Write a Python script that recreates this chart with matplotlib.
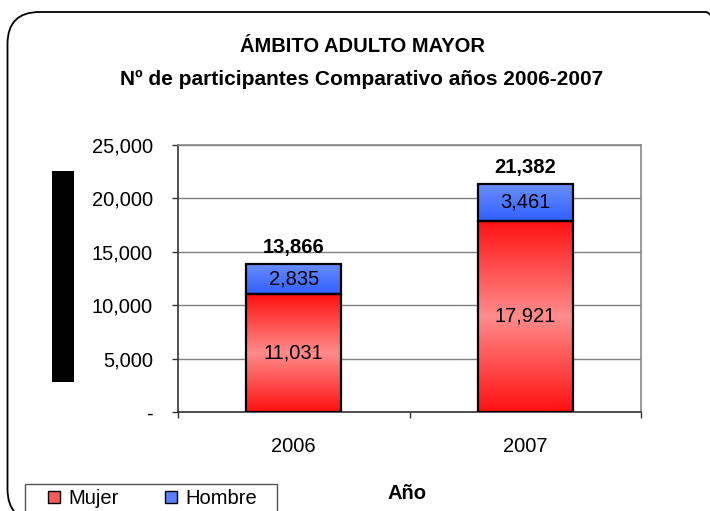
import numpy as np
import matplotlib
matplotlib.use("Agg")
import matplotlib.pyplot as plt
from matplotlib.patches import Patch, FancyBboxPatch, Rectangle
from matplotlib.ticker import FuncFormatter, FixedLocator
from matplotlib.colors import LinearSegmentedColormap

plt.rcParams['font.family'] = ['Liberation Sans', 'DejaVu Sans']

# ---- data ----
years = ["2006", "2007"]
mujer = [11031, 17921]
hombre = [2835, 3461]
totals = [13866, 21382]
series_names = ["Mujer", "Hombre"]
title_lines = ["ÁMBITO ADULTO MAYOR", "Nº de participantes Comparativo años 2006-2007"]
x_label = "Año"
y_ticks = [0, 5000, 10000, 15000, 20000, 25000]

W, H = 710, 511
fig = plt.figure(figsize=(W / 100, H / 100), dpi=100)

# outer rounded frame (in inches)
frame = FancyBboxPatch((0.075, -0.10), 7.30, 5.11 - 0.12 + 0.10,
                       boxstyle="round,pad=0,rounding_size=0.32",
                       transform=fig.dpi_scale_trans, fill=False,
                       edgecolor="black", linewidth=1.3)
fig.add_artist(frame)

ax = fig.add_axes([178 / W, 1 - 412 / H, 463 / W, 267 / H])

x = np.arange(len(years))
bw = 0.41
red_cmap = LinearSegmentedColormap.from_list("r", ["#ff1010", "#ff8c8c", "#ff1010"])
blue_cmap = LinearSegmentedColormap.from_list("b", ["#3060ff", "#6a8eff"])

b1 = ax.bar(x, mujer, width=bw, facecolor="none", edgecolor="black", linewidth=1.6, zorder=4)
b2 = ax.bar(x, hombre, bottom=mujer, width=bw, facecolor="none", edgecolor="black", linewidth=1.6, zorder=4)

grad = np.linspace(0, 1, 256).reshape(-1, 1)
for bars, cmap in ((b1, red_cmap), (b2, blue_cmap)):
    for p in bars:
        x0, y0 = p.get_x(), p.get_y()
        x1, y1 = x0 + p.get_width(), y0 + p.get_height()
        im = ax.imshow(grad, cmap=cmap, extent=(x0, x1, y1, y0), aspect="auto",
                       origin="upper", zorder=3, interpolation="bilinear")
        im.set_clip_path(p)

ax.set_xlim(-0.5, 1.5)
ax.set_ylim(0, 25000)

FS = 14.5
# labels
for i in range(len(years)):
    ax.text(x[i], mujer[i] / 2, f"{mujer[i]:,}", ha="center", va="center", fontsize=FS, zorder=5)
    ax.text(x[i], mujer[i] + hombre[i] / 2, f"{hombre[i]:,}", ha="center", va="center", fontsize=FS, zorder=5)
    ax.text(x[i], totals[i] + 650, f"{totals[i]:,}", ha="center", va="bottom", fontsize=FS,
            fontweight="bold", zorder=5)

# y axis
ax.yaxis.set_major_locator(FixedLocator(y_ticks))
ax.yaxis.set_major_formatter(FuncFormatter(lambda v, p: "-" if v == 0 else f"{v:,.0f}"))
ax.tick_params(axis="y", direction="out", length=4, width=1, pad=14, labelsize=FS, color="#333333")
ax.grid(axis="y", color="#808080", linewidth=1, zorder=1)
ax.set_axisbelow(True)

# x axis: boundary ticks + centered labels
ax.xaxis.set_major_locator(FixedLocator([-0.5, 0.5, 1.5]))
ax.xaxis.set_major_formatter(FuncFormatter(lambda v, p: ""))
ax.xaxis.set_minor_locator(FixedLocator(list(x)))
ax.set_xticklabels(years, minor=True)
ax.tick_params(axis="x", which="major", direction="out", length=4, width=1, color="#333333")
ax.tick_params(axis="x", which="minor", length=0, pad=18, labelsize=FS)

for s in ("left", "bottom"):
    ax.spines[s].set_color("#333333")
    ax.spines[s].set_linewidth(1.2)
for s in ("top", "right"):
    ax.spines[s].set_color("#888888")
    ax.spines[s].set_linewidth(1.2)

# titles
fig.text(362 / W, 1 - 46 / H, title_lines[0], ha="center", va="center", fontsize=14.5, fontweight="bold")
fig.text(362 / W, 1 - 79 / H, title_lines[1], ha="center", va="center", fontsize=15, fontweight="bold")
fig.text(407 / W, 1 - 493 / H, x_label, ha="center", va="center", fontsize=FS, fontweight="bold")

# redaction block (as in reference)
fig.add_artist(Rectangle((52 / W, 1 - 382 / H), 22 / W, 211 / H, transform=fig.transFigure,
                         facecolor="black", edgecolor="none"))

# legend frame (box runs off the bottom of the image)
fig.add_artist(Rectangle((25 / W, -0.05), 252 / W, 0.05 + 1 - 484 / H, transform=fig.transFigure,
                         fill=False, edgecolor="#555555", linewidth=1.0))
handles = [Patch(facecolor="#ff5a5a", edgecolor="black", linewidth=1.0),
           Patch(facecolor="#5a80ff", edgecolor="black", linewidth=1.0)]
leg = fig.legend(handles, series_names, loc="upper left",
                 bbox_to_anchor=(48 / W, 1 - 489 / H), ncol=2, fontsize=FS, frameon=False,
                 borderpad=0, borderaxespad=0, handlelength=0.6, handleheight=0.6,
                 handletextpad=0.4, columnspacing=2.3)

fig.savefig("out.png", dpi=100)
